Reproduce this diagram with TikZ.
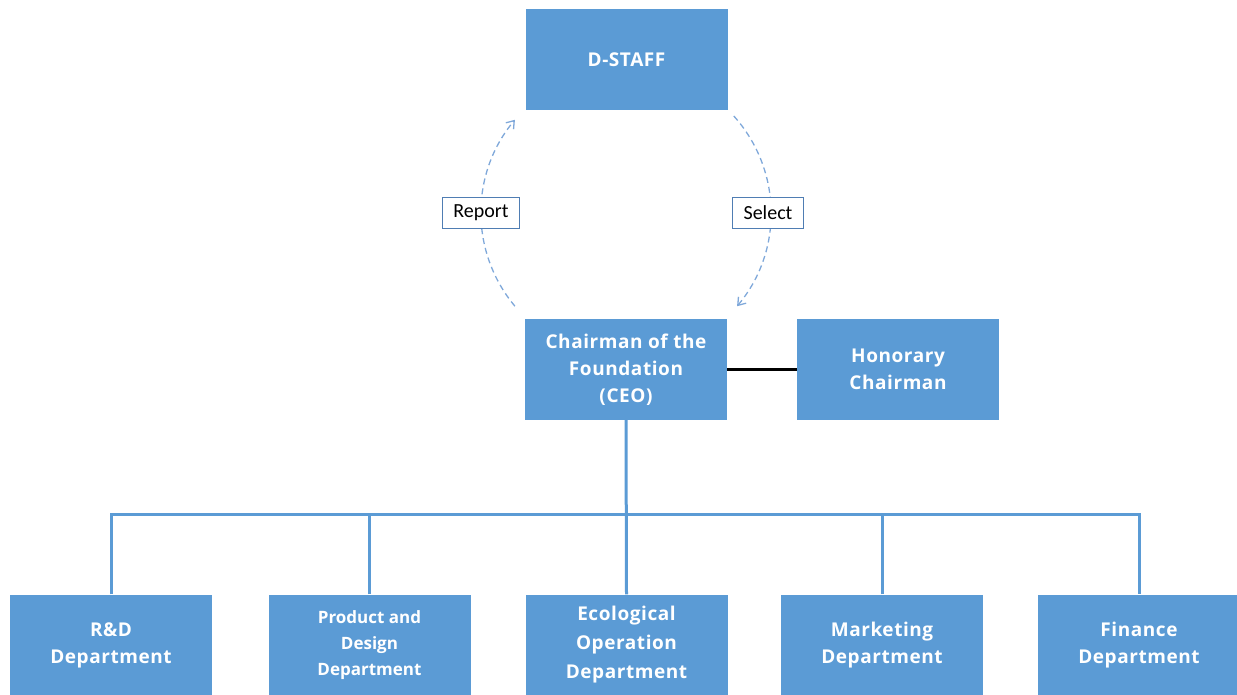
\documentclass[tikz,border=0pt]{standalone}
\usepackage{fontspec}
\setmainfont{Open Sans}
\newfontfamily\lblfont{Carlito}
\usetikzlibrary{arrows.meta,calc}
\definecolor{boxblue}{HTML}{5B9BD5}
\definecolor{dashblue}{HTML}{7FA8DA}
\definecolor{tagline}{HTML}{4F7DB3}
\begin{document}
\begin{tikzpicture}[x=1pt,y=-1pt,
  box/.style={fill=boxblue, draw=none, minimum width=202pt, minimum height=101pt,
    text=white, font=\bfseries\fontsize{19}{27}\selectfont\addfontfeature{LetterSpace=3}, align=center, inner sep=0pt},
  link/.style={draw=boxblue, line width=3pt},
  cyc/.style={draw=dashblue, line width=1.3pt, dash pattern=on 6pt off 4pt,
    -{Straight Barb[length=7pt,width=10pt]}},
  tag/.style={fill=white, draw=tagline, line width=0.8pt, font=\lblfont\fontsize{20}{22}\selectfont,
    minimum height=31pt, inner xsep=11pt, inner ysep=0pt}]
\useasboundingbox (0,0) rectangle (1237,695);
\node[box] (staff) at (626.5,59.5) {D-STAFF};
\node[box] (ceo) at (626,369.5) {Chairman of the\\Foundation\\(CEO)};
\node[box] (hon) at (898,369.5) {Honorary\\Chairman};
\node[box] (rd) at (111,645) {R\&D\\Department};
\node[box, font=\bfseries\fontsize{17}{26}\selectfont] (pd) at (369.5,645) {Product and\\Design\\Department};
\node[box, font=\bfseries\fontsize{19}{29}\selectfont\addfontfeature{LetterSpace=3}] (eco) at (626.5,645) {Ecological\\Operation\\Department};
\node[box] (mk) at (882,645) {Marketing\\Department};
\node[box] (fin) at (1139,645) {Finance\\Department};
\coordinate (bus) at (626,514);
\draw[link] (ceo.south) -- (eco.north);
\draw[link] (rd.north) |- (bus) -| (fin.north);
\draw[link] (pd.north) -- (pd.north |- bus);
\draw[link] (mk.north) -- (mk.north |- bus);
\draw[line width=2.5pt] (ceo.east) -- (hon.west);
\coordinate (cc) at (626,213);
\coordinate (rs) at ($(cc)+(140:145)$);
\coordinate (ss) at ($(cc)+(-42:145)$);
\draw[cyc] (rs) arc[start angle=140, end angle=220, radius=145];
\draw[cyc] (ss) arc[start angle=-42, end angle=40, radius=145];
\node[tag] (rep) at ($(cc)+(180:145)$) {Report};
\node[tag] (sel) at ($(cc)+(0:142)$) {Select};
\end{tikzpicture}
\end{document}
